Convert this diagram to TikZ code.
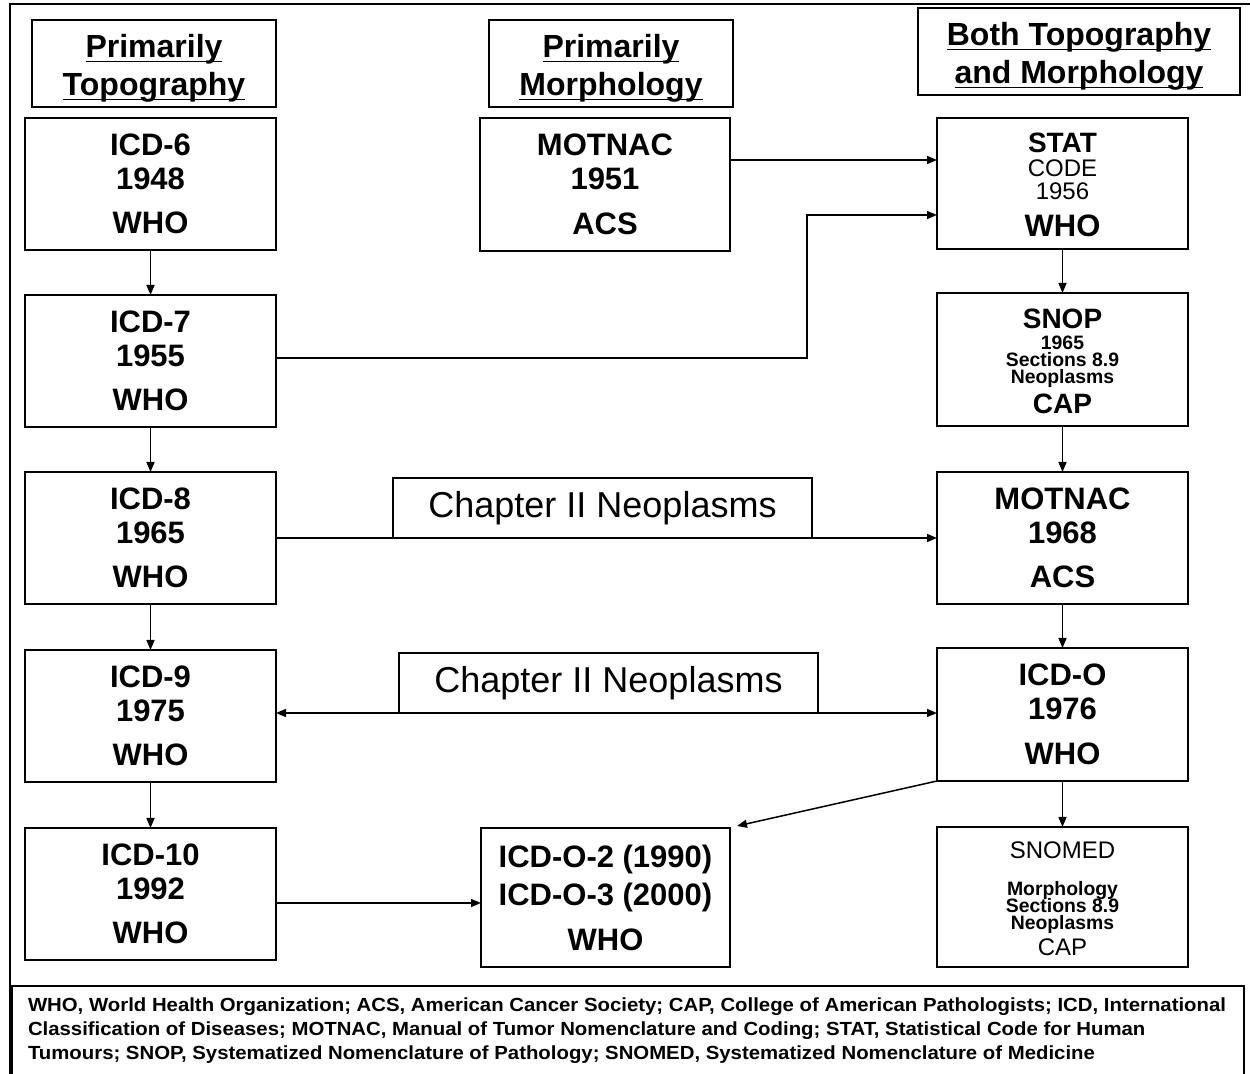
\documentclass[tikz,border=0pt]{standalone}
\usepackage{fontspec}
\usepackage{graphicx}
\setmainfont{Liberation Sans}
\usetikzlibrary{arrows.meta}
\newcommand\hdul[1]{\setbox0\hbox{#1}\rlap{\rule[-2.3pt]{\wd0}{0.75pt}}\box0}
\begin{document}
\begin{tikzpicture}[x=0.5pt,y=-0.5pt,
  every node/.style={inner sep=0pt, outer sep=0pt},
  frame/.style={draw, line width=0.75pt},
  hd/.style={frame, minimum height=43.5pt},
  hdtext/.style={align=center, font=\bfseries\fontsize{16pt}{19pt}\selectfont},
  bx/.style={frame, align=center, font=\bfseries\fontsize{15.5pt}{17pt}\selectfont},
  colbox/.style={bx, minimum width=125.5pt, minimum height=66pt},
  chap/.style={frame, font=\fontsize{18pt}{18pt}\selectfont, minimum width=209.5pt, minimum height=30pt},
  big/.style={anchor=base, font=\bfseries\fontsize{14pt}{14pt}\selectfont},
  mid/.style={anchor=base, font=\fontsize{12pt}{12pt}\selectfont},
  small/.style={anchor=base, font=\bfseries\fontsize{9.7pt}{9.7pt}\selectfont},
  arr/.style={line width=0.75pt, -{Triangle[length=5pt,width=4pt]}},
  darr/.style={line width=0.75pt, {Triangle[length=5pt,width=4pt]}-{Triangle[length=5pt,width=4pt]}},
  ln/.style={line width=0.75pt}
]
\useasboundingbox (0,0) rectangle (1250,1074);
\clip (0,0) rectangle (1250,1074);
\fill[white] (0,0) rectangle (1250,1074);
\draw[line width=1.2pt] (10,1080) -- (10,4) -- (1260,4);

% headers
\node[hd, minimum width=122pt] (hT) at (154,63.5) {};
\node[hdtext] (hTt) at (154,68.5) {\hdul{Primarily}\\\hdul{Topography}};
\node[hd, minimum width=122pt] (hM) at (611,63.5) {};
\node[hdtext] (hMt) at (611,68.5) {\hdul{Primarily}\\\hdul{Morphology}};
\node[hd, minimum width=161pt] (hB) at (1079,51.5) {};
\node[hdtext] (hBt) at (1079,56.5) {\hdul{Both Topography}\\\hdul{and Morphology}};

% left column
\node[colbox] (icd6) at (150.5,184) {ICD-6\\1948\\[5pt]WHO};
\node[colbox] (icd7) at (150.5,361) {ICD-7\\1955\\[5pt]WHO};
\node[colbox] (icd8) at (150.5,538) {ICD-8\\1965\\[5pt]WHO};
\node[colbox] (icd9) at (150.5,716) {ICD-9\\1975\\[5pt]WHO};
\node[colbox] (icd10) at (150.5,894) {ICD-10\\1992\\[5pt]WHO};

% middle column
\node[bx, minimum width=125pt, minimum height=66.5pt] (mot51) at (605,184.5) {MOTNAC\\1951\\[5.5pt]ACS};
\node[bx, minimum width=124.5pt, minimum height=69.5pt] (icdo2) at (605.5,897.5) {ICD-O-2 (1990)\\[2pt]ICD-O-3 (2000)\\[5.5pt]WHO};

% right column
\node[colbox, minimum height=65.5pt] (stat) at (1062.5,183.5) {};
\node[big] (statA) at (1062.5,153) {STAT};
\node[mid] (statB) at (1062.5,176.5) {CODE};
\node[mid] (statC) at (1062.5,199.5) {1956};
\node[anchor=base, font=\bfseries\fontsize{15.5pt}{15.5pt}\selectfont] (statD) at (1062.5,237) {WHO};

\node[colbox, minimum height=66.5pt] (snop) at (1062.5,359.5) {};
\node[big] (snopA) at (1062.5,329) {SNOP};
\node[small] (snopB) at (1062.5,350) {1965};
\node[small] (snopC) at (1062.5,367) {Sections 8.9};
\node[small] (snopD) at (1062.5,383.5) {Neoplasms};
\node[big] (snopE) at (1062.5,414) {CAP};

\node[colbox] (mot68) at (1062.5,538) {MOTNAC\\1968\\[5pt]ACS};
\node[colbox, minimum height=66.5pt] (icdo) at (1062.5,714.5) {ICD-O\\1976\\[5.5pt]WHO};

\node[colbox, minimum height=70pt] (snomed) at (1062.5,897) {};
\node[mid] (snomedA) at (1062.5,858.5) {SNOMED};
\node[small] (snomedB) at (1062.5,896) {Morphology};
\node[small] (snomedC) at (1062.5,913) {Sections 8.9};
\node[small] (snomedD) at (1062.5,930) {Neoplasms};
\node[mid] (snomedE) at (1062.5,955.5) {CAP};

% chapter labels
\node[chap] (chap1) at (602.5,508) {Chapter II Neoplasms};
\node[chap] (chap2) at (608.5,683) {Chapter II Neoplasms};

% connectors
\draw[arr] (icd6) -- (icd7);
\draw[arr] (icd7) -- (icd8);
\draw[arr] (icd8) -- (icd9);
\draw[arr] (icd9) -- (icd10);
\draw[arr] (stat) -- (snop);
\draw[arr] (snop) -- (mot68);
\draw[arr] (mot68) -- (icdo);
\draw[arr] (icdo) -- (snomed);
\draw[arr] (mot51.east |- 0,160) -- (stat.west |- 0,160);
\draw[arr] (icd7.east |- 0,358) -| (807,215) -- (stat.west |- 0,215);
\draw[arr] (icd8.east) -- (mot68.west);
\draw[darr] (icd9.east |- 0,713) -- (icdo.west |- 0,713);
\draw[arr] (icdo.south west) -- ([xshift=3.5pt,yshift=1pt]icdo2.north east);
\draw[arr] (icd10.east |- 0,903) -- (icdo2.west |- 0,903);

% footer
\node[frame, anchor=north west, minimum width=616pt, minimum height=60pt] (foot) at (12,986) {};
\node[anchor=west, font=\bfseries\fontsize{9.5pt}{12pt}\selectfont] (foottxt) at (28,1031) {\resizebox{599pt}{\height}{\begin{tabular}{@{}l@{}}WHO, World Health Organization; ACS, American Cancer Society; CAP, College of American Pathologists; ICD, International\\Classification of Diseases; MOTNAC, Manual of Tumor Nomenclature and Coding; STAT, Statistical Code for Human\\Tumours; SNOP, Systematized Nomenclature of Pathology; SNOMED, Systematized Nomenclature of Medicine\end{tabular}}};
\end{tikzpicture}
\end{document}
